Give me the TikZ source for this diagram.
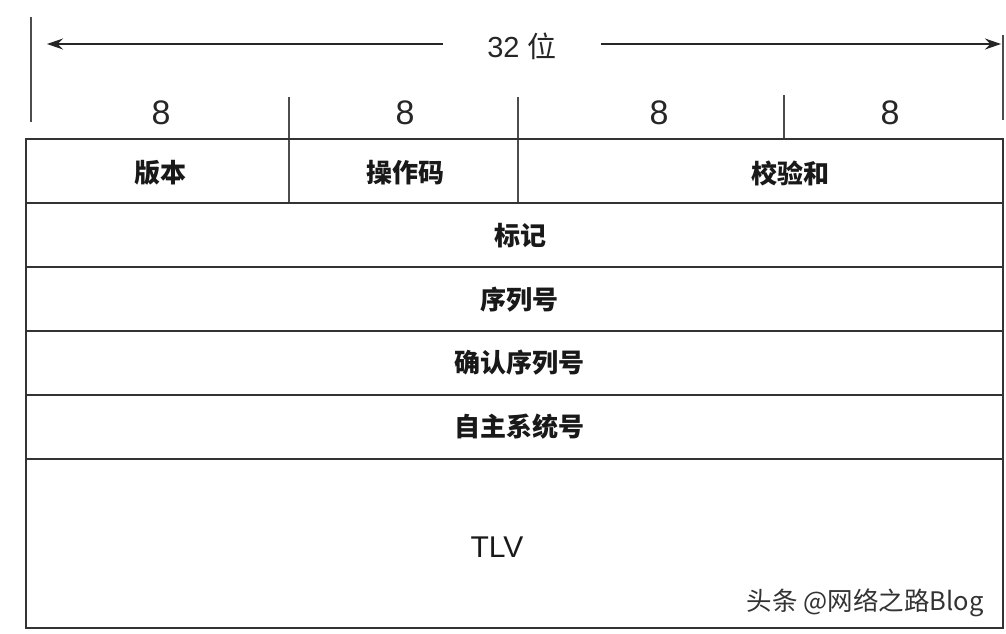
\documentclass[tikz,border=0pt]{standalone}
\usepackage{fontspec}
\setmainfont{Liberation Sans}
\newfontfamily\cjk{Noto Sans CJK SC}
\usetikzlibrary{arrows.meta}
\begin{document}
\begin{tikzpicture}[x=1pt,y=-1pt,
  frame/.style={draw=black!80,line width=1.6pt},
  tick/.style={draw=black!70,line width=1.4pt},
  dim/.style={draw=black!85,line width=1.3pt,-{Stealth[length=16pt,width=11pt]}},
  num/.style={font=\fontsize{34}{36}\selectfont,text=black!85},
  lab/.style={font=\cjk\bfseries\fontsize{26}{28}\selectfont,text=black!90},
  wmark/.style={font=\cjk\fontsize{25.5}{27}\selectfont,text=black!80}]
\useasboundingbox[fill=white] (0,0) rectangle (1006,634);
% dimension line
\draw[tick] (31,17) -- (31,122);
\draw[tick] (1003,35) -- (1003,120);
\node[font=\fontsize{29}{31}\selectfont,text=black!85,inner xsep=44pt] (w) at (522,46) {32 \cjk 位};
\coordinate (L) at (47,44);
\coordinate (R) at (1001,44);
\draw[dim] (w.west |- L) -- (L);
\draw[dim] (w.east |- R) -- (R);
% field widths
\node[num] (n1) at (161,113) {8};
\node[num] (n2) at (405,113) {8};
\node[num] (n3) at (659,113) {8};
\node[num] (n4) at (890,113) {8};
\draw[tick] (289,97) -- (289,202);
\draw[tick] (518,97) -- (518,203);
\draw[tick] (784,95) -- (784,139);
% frame
\draw[frame] (26,139) rectangle (1003,628);
\foreach \yy in {203,267,331,395,459} \draw[frame] (26,\yy) -- (1003,\yy);
% labels
\node[lab] (a) at (160,173) {版本};
\node[lab] (b) at (405,173) {操作码};
\node[lab] (c) at (790,173) {校验和};
\node[lab] (d) at (520,236) {标记};
\node[lab] (e) at (519,300) {序列号};
\node[lab] (f) at (519,363) {确认序列号};
\node[lab] (g) at (519,427) {自主系统号};
\node[font=\fontsize{30}{32}\selectfont,text=black!90] (h) at (497,547) {TLV};
\node[wmark,anchor=east] (wm) at (987,603) {头条 @网络之路Blog};
\end{tikzpicture}
\end{document}
